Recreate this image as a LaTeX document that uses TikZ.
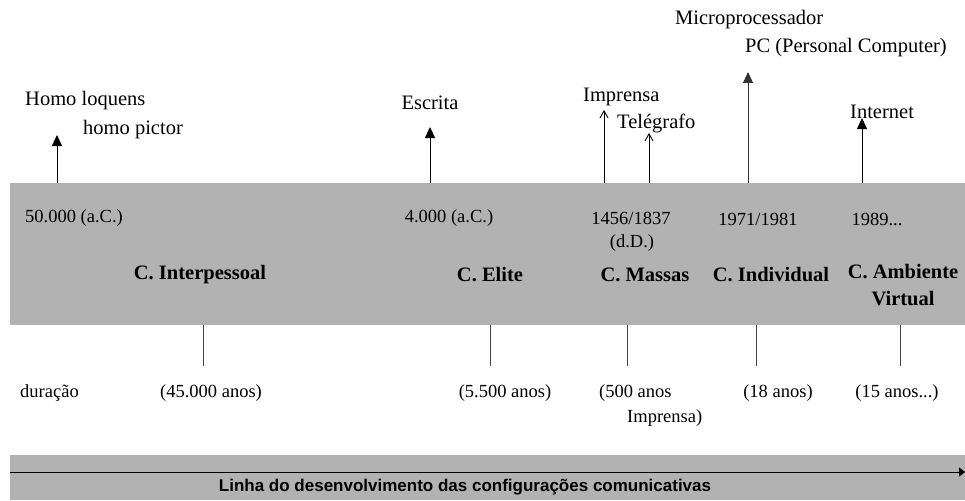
\documentclass[tikz,border=0pt]{standalone}
\usepackage{fontspec}
\setmainfont{Liberation Serif}
\setsansfont{Liberation Sans}
\usetikzlibrary{arrows.meta}
\definecolor{band}{RGB}{178,178,178}
\tikzset{
  toplbl/.style={inner sep=0pt,font=\fontsize{20.5}{24}\selectfont},
  datelbl/.style={inner sep=0pt,font=\fontsize{18.5}{22}\selectfont},
  durlbl/.style={inner sep=0pt,font=\fontsize{18.5}{22}\selectfont},
  eralbl/.style={inner sep=0pt,align=center,font=\fontsize{20.5}{27}\selectfont\bfseries},
  fullarrow/.style={line width=0.9pt,-{Triangle[length=11pt,width=10pt]}},
  openarrow/.style={line width=0.9pt,-{Straight Barb[length=7pt,width=8pt]}},
  tick/.style={line width=0.8pt,draw=black!75}
}
\begin{document}
\begin{tikzpicture}[x=1pt,y=-1pt]
\useasboundingbox (0,0) rectangle (965,500);
% bands
\fill[band] (10,183) rectangle (965,325);
\fill[band] (10,455) rectangle (965,500);

% top labels
\node[toplbl,anchor=west] (homo) at (25,101) {Homo loquens};
\node[toplbl,anchor=west] (pictor) at (83,130) {homo pictor};
\node[toplbl] (escrita) at (430,103) {Escrita};
\node[toplbl,anchor=west] (imprensa) at (583,97) {Imprensa};
\node[toplbl,anchor=west] (telegrafo) at (617,123) {Telégrafo};
\node[toplbl,anchor=west] (micro) at (675,20) {Microprocessador};
\node[toplbl,anchor=west] (pc) at (745,48) {PC (Personal Computer)};
\node[toplbl,anchor=west] (internet) at (850,112) {Internet};

% arrow coordinates
\coordinate (b1) at (57,183);  \coordinate (t1) at (57,135);
\coordinate (b2) at (430,183); \coordinate (t2) at (430,127);
\coordinate (b3) at (604,183); \coordinate (t3) at (604,110);
\coordinate (b4) at (649,183); \coordinate (t4) at (649,133);
\coordinate (b5) at (748,183); \coordinate (t5) at (748,72);
\coordinate (b6) at (862,183); \coordinate (t6) at (862,118);
\draw[fullarrow] (b1) -- (t1);
\draw[fullarrow] (b2) -- (t2);
\draw[openarrow] (b3) -- (t3);
\draw[openarrow] (b4) -- (t4);
\draw[fullarrow,draw=black!80] (b5) -- (t5);
\draw[fullarrow] (b6) -- (t6);

% dates
\node[datelbl,anchor=west] (d1) at (25,218) {50.000 (a.C.)};
\node[datelbl] (d2) at (449,218) {4.000 (a.C.)};
\node[datelbl] (d3) at (631,218) {1456/1837};
\node[datelbl] (d3b) at (632,243) {(d.D.)};
\node[datelbl] (d4) at (758,219) {1971/1981};
\node[datelbl] (d5) at (877,219) {1989...};

% eras
\node[eralbl] (e1) at (200,275) {C. Interpessoal};
\node[eralbl] (e2) at (490,275) {C. Elite};
\node[eralbl] (e3) at (645,275) {C. Massas};
\node[eralbl] (e4) at (771,275) {C. Individual};
\node[eralbl,anchor=north] (e5) at (903,264) {C. Ambiente\\Virtual};

% ticks below band
\coordinate (u1) at (203,325); \coordinate (l1) at (203,366);
\coordinate (u2) at (490,325); \coordinate (l2) at (490,366);
\coordinate (u3) at (627,325); \coordinate (l3) at (627,366);
\coordinate (u4) at (756,325); \coordinate (l4) at (756,366);
\coordinate (u5) at (900,325); \coordinate (l5) at (900,366);
\foreach \i in {1,...,5} {\draw[tick] (u\i) -- (l\i);}

% durations
\node[durlbl,anchor=west] (dur) at (20,393) {duração};
\node[durlbl] (r1) at (211,393) {(45.000 anos)};
\node[durlbl] (r2) at (505,393) {(5.500 anos)};
\node[durlbl,anchor=west] (r3) at (599,393) {(500 anos};
\node[durlbl,anchor=west] (r3b) at (627,418) {Imprensa)};
\node[durlbl] (r4) at (778,393) {(18 anos)};
\node[durlbl] (r5) at (897,393) {(15 anos...)};

% bottom line
\coordinate (ls) at (10,472);
\coordinate (le) at (965,472);
\draw[line width=0.9pt,-{Triangle[length=6pt,width=9pt]}] (ls) -- (le);
\node[inner sep=0pt,font=\sffamily\bfseries\fontsize{17}{20}\selectfont] (title) at (465,487) {Linha do desenvolvimento das configurações comunicativas};
\end{tikzpicture}
\end{document}
